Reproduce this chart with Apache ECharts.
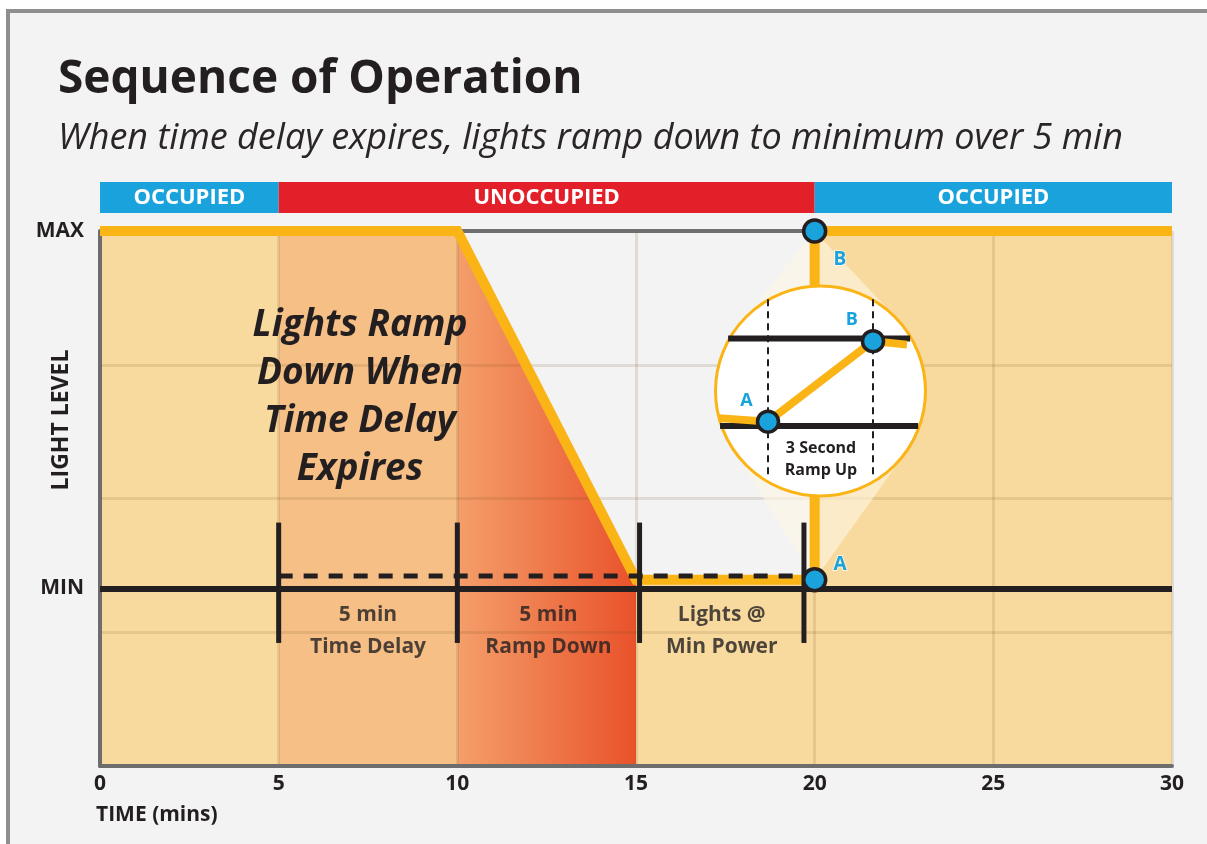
<!DOCTYPE html>
<html><head><meta charset="utf-8">
<script src="https://cdn.jsdelivr.net/npm/echarts@6/dist/echarts.min.js"></script>
<style>html,body{margin:0;padding:0;background:#fff}#c{width:1207px;height:844px}</style>
</head><body><div id="c"></div>
<script>
// ================= DATA =================
const timeMins   = [0, 5, 10, 15, 20, 20, 30];            // minutes
const lightLevel = [100, 100, 100, 34.8, 34.8, 100, 100];  // % of MAX
const fillBreaks = [0, 5, 10, 15, 30];                     // shaded phases
const occStart = [0, 5, 20];
const occEnd   = [5, 20, 30];
const occLabel = ['OCCUPIED', 'UNOCCUPIED', 'OCCUPIED'];
const maxLevel = 100;
const minLevel = 33.2;
const delayDashLevel = 35.5;
const phaseMarkers = [5, 10, 15.1, 19.7];
const markerTop = 45.5, markerBottom = 23;
const phaseLabels = ['5 min\nTime Delay', '5 min\nRamp Down', 'Lights @\nMin Power'];
const phaseLabelLevel = 25.2;
const pointNames = ['A', 'B'];
const pointTime  = [20, 20];
const pointLevel = [34.8, 100];
// inset: 3-second ramp up (time in seconds, level 0 = MIN, 1 = MAX)
const insetRampSec   = [-1.4, 0, 3, 3.97];
const insetRampLevel = [0.09, 0.05, 0.97, 0.93];
const insetLowLine   = [-1.37, 4.29];
const insetHighLine  = [-1.14, 4.06];
const insetDashSec   = [0, 3];
const insetDashSpan  = [1.45, -0.6];
const insetPointSec   = [0, 3];
const insetPointLevel = [0.05, 0.97];
const insetXRange = [-1.5, 4.5];
const insetYRange = [-0.8, 1.6];

// ================= STYLE / LAYOUT =================
const FONT = "'Open Sans', 'Noto Sans', sans-serif";
const DARK = '#231f20';
const ORANGE = '#fbb416';
const BLUE = '#1aa2dc';
const RED = '#e3202a';
const TAN = '#f8da9f';
const GRID = {left: 100, right: 35, top: 231, bottom: 78};
const INSET = {left: 715.5, top: 286, size: 210};
const fillStyles = [
  TAN,
  '#f5bf86',
  {type: 'linear', x: 0, y: 0, x2: 1, y2: 0, colorStops: [{offset: 0, color: '#f49f6a'}, {offset: 1, color: '#e9522b'}]},
  TAN
];

const chart = echarts.init(document.getElementById('c'));
const profile = timeMins.map((t, i) => [t, lightLevel[i]]);
const series = [];

// shaded fills under the light-level profile
for (let i = 0; i < fillBreaks.length - 1; i++) {
  const a = fillBreaks[i], b = fillBreaks[i + 1];
  series.push({
    type: 'line', xAxisIndex: 0, yAxisIndex: 0, z: 1, silent: true, clip: false,
    symbol: 'none', lineStyle: {width: 0},
    areaStyle: {color: fillStyles[i], opacity: 1},
    data: profile.filter(p => p[0] >= a && p[0] <= b)
  });
}

// magnifier cones
series.push({
  type: 'custom', xAxisIndex: 0, yAxisIndex: 0, z: 3, silent: true,
  data: pointNames.map((n, i) => [pointTime[i], pointLevel[i]]),
  renderItem: (params, api) => {
    const p = api.coord([api.value(0), api.value(1)]);
    const cx = INSET.left + INSET.size / 2, cy = INSET.top + INSET.size / 2, r = INSET.size / 2;
    const dx = p[0] - cx, dy = p[1] - cy, d = Math.hypot(dx, dy);
    const a = Math.atan2(dy, dx), h = Math.acos(r / d);
    return {
      type: 'polygon',
      shape: {points: [p, [cx + r * Math.cos(a + h), cy + r * Math.sin(a + h)], [cx, cy], [cx + r * Math.cos(a - h), cy + r * Math.sin(a - h)]]},
      style: {fill: 'rgba(255,246,228,0.6)'}
    };
  }
});

// MAX reference line
series.push({
  type: 'line', xAxisIndex: 0, yAxisIndex: 0, z: 4, data: [], silent: true,
  markLine: {
    silent: true, symbol: ['none', 'none'],
    lineStyle: {color: '#6f6f6f', width: 4, type: 'solid'},
    label: {show: true, position: 'start', distance: 16, formatter: 'MAX', color: DARK, fontFamily: FONT, fontWeight: 'bold', fontSize: 21},
    data: [{yAxis: maxLevel}]
  }
});

// light level profile
series.push({
  type: 'line', xAxisIndex: 0, yAxisIndex: 0, z: 5, clip: false, silent: true,
  symbol: 'none', lineStyle: {color: ORANGE, width: 10, cap: 'butt', join: 'miter'},
  data: profile
});

// MIN line
series.push({
  type: 'line', xAxisIndex: 0, yAxisIndex: 0, z: 6, data: [], silent: true,
  markLine: {
    silent: true, symbol: ['none', 'none'],
    lineStyle: {color: DARK, width: 6, type: 'solid'},
    label: {show: true, position: 'start', distance: 16, formatter: 'MIN', color: DARK, fontFamily: FONT, fontWeight: 'bold', fontSize: 21},
    data: [{yAxis: minLevel}]
  }
});

// dashed time-delay line
series.push({
  type: 'line', xAxisIndex: 0, yAxisIndex: 0, z: 6, clip: false, silent: true, symbol: 'none',
  lineStyle: {color: DARK, width: 5, type: [14, 11]},
  data: [[phaseMarkers[0], delayDashLevel], [phaseMarkers[phaseMarkers.length - 1], delayDashLevel]]
});

// phase markers
phaseMarkers.forEach(m => series.push({
  type: 'line', xAxisIndex: 0, yAxisIndex: 0, z: 6, clip: false, silent: true, symbol: 'none',
  lineStyle: {color: DARK, width: 5},
  data: [[m, markerTop], [m, markerBottom]]
}));

// phase labels
series.push({
  type: 'scatter', xAxisIndex: 0, yAxisIndex: 0, z: 6, silent: true, symbolSize: 0,
  data: phaseLabels.map((l, i) => ({value: [(phaseMarkers[i] + phaseMarkers[i + 1]) / 2, phaseLabelLevel], name: l})),
  label: {show: true, position: 'inside', formatter: p => p.name, color: DARK, fontFamily: FONT, fontWeight: 'bold', fontSize: 21, lineHeight: 32}
});

// points A / B
series.push({
  type: 'scatter', xAxisIndex: 0, yAxisIndex: 0, z: 7, silent: true, clip: false,
  symbolSize: 22,
  itemStyle: {color: BLUE, borderColor: DARK, borderWidth: 3.5, opacity: 1},
  data: pointNames.map((n, i) => ({
    value: [pointTime[i], pointLevel[i]], name: n,
    label: {offset: n === 'B' ? [0, 29] : [0, -15]}
  })),
  label: {show: true, position: 'right', distance: 6, formatter: p => p.name, color: BLUE, fontFamily: FONT, fontWeight: 'bold', fontSize: 19, textBorderColor: 'rgba(255,255,255,0.6)', textBorderWidth: 2}
});

// status bar
series.push({
  type: 'line', xAxisIndex: 1, yAxisIndex: 1, data: [], silent: true,
  markArea: {
    silent: true,
    label: {show: true, position: 'inside', color: '#fff', fontFamily: FONT, fontWeight: 'bold', fontSize: 22},
    data: occLabel.map((l, i) => [
      {xAxis: occStart[i], name: l, itemStyle: {color: l === 'OCCUPIED' ? BLUE : RED, opacity: 1}},
      {xAxis: occEnd[i]}
    ])
  }
});

// inset magnifier
series.push({
  type: 'scatter', xAxisIndex: 2, yAxisIndex: 2, z: 10, silent: true, clip: false,
  symbolSize: INSET.size,
  itemStyle: {color: '#fff', borderColor: ORANGE, borderWidth: 3, opacity: 1},
  data: [[(insetXRange[0] + insetXRange[1]) / 2, (insetYRange[0] + insetYRange[1]) / 2]]
});
[[insetLowLine, 0], [insetHighLine, 1]].forEach(([xs, lv]) => series.push({
  type: 'line', xAxisIndex: 2, yAxisIndex: 2, z: 11, clip: false, silent: true, symbol: 'none',
  lineStyle: {color: DARK, width: 6},
  data: [[xs[0], lv], [xs[1], lv]]
}));
insetDashSec.forEach(s => series.push({
  type: 'line', xAxisIndex: 2, yAxisIndex: 2, z: 11, clip: false, silent: true, symbol: 'none',
  lineStyle: {color: DARK, width: 2, type: [7, 5]},
  data: [[s, insetDashSpan[0]], [s, insetDashSpan[1]]]
}));
series.push({
  type: 'line', xAxisIndex: 2, yAxisIndex: 2, z: 12, clip: false, silent: true, symbol: 'none',
  lineStyle: {color: ORANGE, width: 8},
  data: insetRampSec.map((s, i) => [s, insetRampLevel[i]])
});
series.push({
  type: 'scatter', xAxisIndex: 2, yAxisIndex: 2, z: 13, silent: true, clip: false,
  symbolSize: 21,
  itemStyle: {color: BLUE, borderColor: DARK, borderWidth: 3.5, opacity: 1},
  data: pointNames.map((n, i) => ({value: [insetPointSec[i], insetPointLevel[i]], name: n})),
  label: {show: true, position: 'left', distance: 3, offset: [0, -21], formatter: p => p.name, color: BLUE, fontFamily: FONT, fontWeight: 'bold', fontSize: 18, textBorderColor: 'rgba(255,255,255,0.6)', textBorderWidth: 2}
});

const gridLine = {show: true, lineStyle: {color: 'rgba(110,80,30,0.14)', width: 3}};

chart.setOption({
  backgroundColor: '#f3f3f3',
  animation: false,
  title: {
    text: 'Sequence of Operation',
    subtext: 'When time delay expires, lights ramp down to minimum over 5 min',
    left: 58, top: 57, padding: 0, itemGap: 18,
    textStyle: {fontFamily: FONT, fontWeight: 'bold', fontSize: 46, color: DARK},
    subtextStyle: {fontFamily: FONT, fontStyle: 'italic', fontSize: 36, color: '#2a2627'}
  },
  grid: [
    {left: GRID.left, right: GRID.right, top: GRID.top, bottom: GRID.bottom},
    {left: GRID.left, right: GRID.right, top: 182, height: 31},
    {left: INSET.left, top: INSET.top, width: INSET.size, height: INSET.size}
  ],
  xAxis: [
    {type: 'value', gridIndex: 0, min: 0, max: 30, interval: 5, z: 2,
     axisLine: {show: true, lineStyle: {color: '#6d6d6d', width: 4}},
     axisTick: {show: false},
     axisLabel: {color: DARK, fontFamily: FONT, fontWeight: 'bold', fontSize: 21, margin: 8},
     splitLine: gridLine},
    {type: 'value', gridIndex: 1, min: 0, max: 30, show: false},
    {type: 'value', gridIndex: 2, min: insetXRange[0], max: insetXRange[1], show: false}
  ],
  yAxis: [
    {type: 'value', gridIndex: 0, min: 0, max: 100, interval: 25, z: 2,
     axisLine: {show: true, lineStyle: {color: '#6d6d6d', width: 4}},
     axisTick: {show: false}, axisLabel: {show: false},
     splitLine: gridLine},
    {type: 'value', gridIndex: 1, min: 0, max: 1, show: false},
    {type: 'value', gridIndex: 2, min: insetYRange[0], max: insetYRange[1], show: false}
  ],
  series: series,
  graphic: [
    {type: 'rect', z: 100, silent: true, shape: {x: 0, y: 0, width: 1207, height: 9}, style: {fill: '#fff'}},
    {type: 'rect', z: 100, silent: true, shape: {x: 0, y: 0, width: 6, height: 844}, style: {fill: '#fff'}},
    {type: 'rect', z: 100, silent: true, shape: {x: 6, y: 9, width: 1201, height: 4}, style: {fill: '#8e8e8e'}},
    {type: 'rect', z: 100, silent: true, shape: {x: 6, y: 9, width: 4, height: 835}, style: {fill: '#8e8e8e'}},
    {type: 'text', z: 100, silent: true, x: 61, y: 420, rotation: Math.PI / 2,
     style: {text: 'LIGHT LEVEL', fill: DARK, font: 'bold 23px ' + FONT, textAlign: 'center', textVerticalAlign: 'middle', align: 'center', verticalAlign: 'middle'}},
    {type: 'text', z: 100, silent: true, x: 96, y: 815,
     style: {text: 'TIME (mins)', fill: DARK, font: 'bold 21px ' + FONT, textAlign: 'left', textVerticalAlign: 'middle', align: 'left', verticalAlign: 'middle'}},
    {type: 'text', z: 100, silent: true, x: 360, y: 397,
     style: {text: 'Lights Ramp\nDown When\nTime Delay\nExpires', fill: DARK, font: 'italic bold 37px ' + FONT, lineHeight: 48, textAlign: 'center', textVerticalAlign: 'middle', align: 'center', verticalAlign: 'middle'}},
    {type: 'text', z: 200, silent: true, x: 821, y: 459,
     style: {text: '3 Second\nRamp Up', fill: DARK, font: 'bold 16px ' + FONT, lineHeight: 22, textAlign: 'center', textVerticalAlign: 'middle', align: 'center', verticalAlign: 'middle'}}
  ]
});
</script>
</body></html>
